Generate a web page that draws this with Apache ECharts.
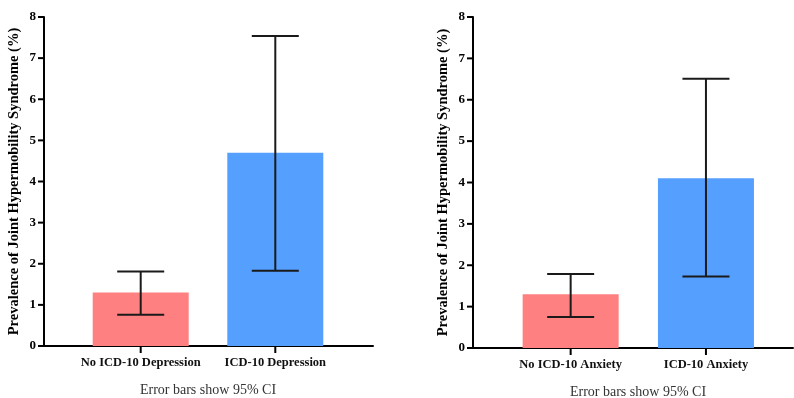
<!DOCTYPE html>
<html><head><meta charset="utf-8">
<script src="https://cdn.jsdelivr.net/npm/echarts@6/dist/echarts.min.js"></script>
<style>html,body{margin:0;padding:0;background:#fff}#c{width:794px;height:398px}</style>
</head><body><div id="c"></div>
<script>
const depCategories = ['No ICD-10 Depression', 'ICD-10 Depression'];
const depValues = [1.3, 4.7];
const depLow = [0.76, 1.83];
const depHigh = [1.81, 7.54];

const anxCategories = ['No ICD-10 Anxiety', 'ICD-10 Anxiety'];
const anxValues = [1.3, 4.1];
const anxLow = [0.75, 1.73];
const anxHigh = [1.79, 6.51];

const yTicks = [0, 1, 2, 3, 4, 5, 6, 7, 8];
const yTitle = 'Prevalence of Joint Hypermobility Syndrome (%)';
const footnote = 'Error bars show 95% CI';
const barColors = ['#FF8080', '#559FFF'];

const chart = echarts.init(document.getElementById('c'));
const serif = 'Liberation Serif, Times New Roman, serif';

function errSeries(xi, low, high) {
  return {
    type: 'custom', xAxisIndex: xi, yAxisIndex: xi, z: 10,
    data: low.map((l, i) => [i, l, high[i]]),
    renderItem: function (params, api) {
      const lo = api.coord([api.value(0), api.value(1)]);
      const hi = api.coord([api.value(0), api.value(2)]);
      const hw = 23.5;
      const st = { stroke: '#1a1a1a', lineWidth: 2 };
      return { type: 'group', children: [
        { type: 'line', shape: { x1: lo[0], y1: lo[1], x2: hi[0], y2: hi[1] }, style: st },
        { type: 'line', shape: { x1: lo[0] - hw, y1: lo[1], x2: lo[0] + hw, y2: lo[1] }, style: st },
        { type: 'line', shape: { x1: hi[0] - hw, y1: hi[1], x2: hi[0] + hw, y2: hi[1] }, style: st }
      ]};
    }
  };
}

function outerY() {
  return {
    type: 'value', min: yTicks[0], max: yTicks[yTicks.length - 1], interval: 1,
    name: yTitle, nameLocation: 'middle', nameGap: 22,
    nameTextStyle: { fontFamily: serif, fontWeight: 'bold', fontSize: 14.5, color: '#000' },
    axisLine: { show: true, lineStyle: { color: '#000', width: 2 } },
    axisTick: { show: false },
    axisLabel: { fontFamily: serif, fontWeight: 'bold', fontSize: 13, color: '#000', margin: 8 },
    splitLine: { show: false }
  };
}
function innerY() {
  return { type: 'value', min: 0, max: 8, interval: 1, show: false, splitLine: { show: false } };
}
function outerX() {
  return { type: 'value', min: 0, max: 1, axisLine: { show: true, onZero: false, lineStyle: { color: '#000', width: 2 } },
    axisTick: { show: false }, axisLabel: { show: false }, splitLine: { show: false } };
}
function innerX(cats) {
  return { type: 'category', data: cats,
    axisLine: { show: false },
    axisTick: { show: false },
    axisLabel: { interval: 0, fontFamily: serif, fontWeight: 'bold', fontSize: 12.5, color: '#111', margin: 10 } };
}
function barSeries(xi, vals) {
  return { type: 'bar', xAxisIndex: xi, yAxisIndex: xi, barWidth: 96,
    data: vals.map((v, i) => ({ value: v, itemStyle: { color: barColors[i] } })) };
}

chart.setOption({
  animation: false,
  grid: [
    { left: 44, top: 17, width: 329, height: 329 },
    { left: 73.4, top: 17, width: 269.2, height: 329 },
    { left: 473, top: 17, width: 320, height: 331 },
    { left: 503, top: 17, width: 270.6, height: 331 }
  ],
  xAxis: [
    Object.assign(outerX(), { gridIndex: 0 }),
    Object.assign(innerX(depCategories), { gridIndex: 1 }),
    Object.assign(outerX(), { gridIndex: 2 }),
    Object.assign(innerX(anxCategories), { gridIndex: 3 })
  ],
  yAxis: [
    Object.assign(outerY(), { gridIndex: 0 }),
    Object.assign(innerY(), { gridIndex: 1 }),
    Object.assign(outerY(), { gridIndex: 2 }),
    Object.assign(innerY(), { gridIndex: 3 })
  ],
  series: [
    barSeries(1, depValues), errSeries(1, depLow, depHigh),
    barSeries(3, anxValues), errSeries(3, anxLow, anxHigh)
  ]
});

// Tick marks placed via the library's own scales (convertToPixel)
const tickStyle = { stroke: '#000', lineWidth: 2 };
const graphics = [
  { type: 'text', x: 208, y: 390, style: { text: footnote, fontFamily: serif, fontSize: 14, fill: '#333', textAlign: 'center', textVerticalAlign: 'middle' } },
  { type: 'text', x: 638, y: 392, style: { text: footnote, fontFamily: serif, fontSize: 14, fill: '#333', textAlign: 'center', textVerticalAlign: 'middle' } }
];
[0, 2].forEach(function (gi) {
  yTicks.forEach(function (v) {
    const p = chart.convertToPixel({ xAxisIndex: gi, yAxisIndex: gi }, [0, v]);
    graphics.push({ type: 'line', z: 100, shape: { x1: p[0] - 6, y1: p[1], x2: p[0], y2: p[1] }, style: tickStyle });
  });
});
[[1, depCategories], [3, anxCategories]].forEach(function (pair) {
  pair[1].forEach(function (c, i) {
    const p = chart.convertToPixel({ xAxisIndex: pair[0], yAxisIndex: pair[0] }, [i, 0]);
    graphics.push({ type: 'line', z: 100, shape: { x1: p[0], y1: p[1], x2: p[0], y2: p[1] + 7 }, style: tickStyle });
  });
});
chart.setOption({ graphic: graphics });
</script></body></html>
